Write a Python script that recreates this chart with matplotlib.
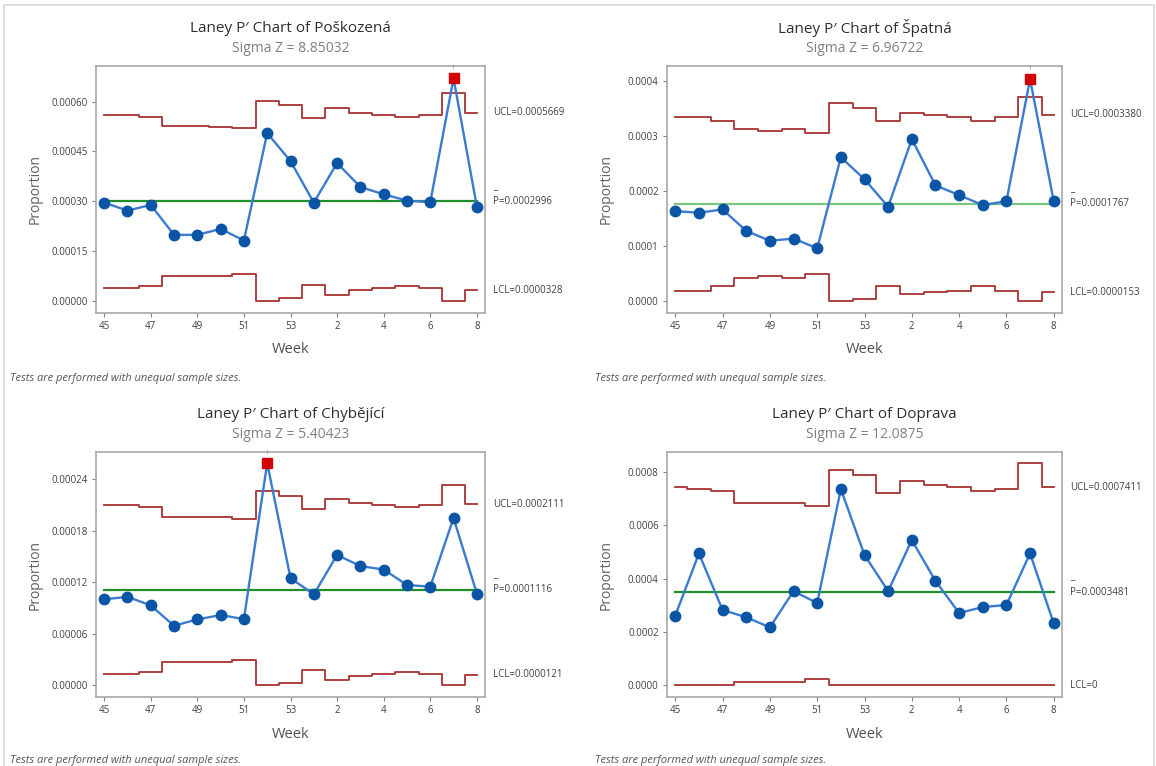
import numpy as np
import matplotlib
matplotlib.use("Agg")
import matplotlib.pyplot as plt
from matplotlib.patches import Rectangle

plt.rcParams["font.family"] = ["Open Sans", "DejaVu Sans"]

# ---- data ----
weeks = [45, 46, 47, 48, 49, 50, 51, 52, 53, 1, 2, 3, 4, 5, 6, 7, 8]
tick_weeks = [45, 47, 49, 51, 53, 2, 4, 6, 8]

names = ["Poškozená", "Špatná", "Chybějící", "Doprava"]
sigma_z = ["8.85032", "6.96722", "5.40423", "12.0875"]
p_bar = [0.0002996, 0.0001767, 0.0001116, 0.0003481]
ucl_last = ["0.0005669", "0.0003380", "0.0002111", "0.0007411"]
lcl_last = ["0.0000328", "0.0000153", "0.0000121", "0"]

prop_poskozena = [0.000296, 0.000272, 0.000289, 0.000199, 0.000199, 0.000217, 0.000182, 0.000505,
                  0.000421, 0.000296, 0.000415, 0.000343, 0.000321, 0.000302, 0.000297, 0.000670, 0.000284]
ucl_poskozena = [0.000560, 0.000560, 0.000555, 0.000525, 0.000525, 0.000524, 0.000519, 0.000603,
                 0.000590, 0.000550, 0.000580, 0.000566, 0.000560, 0.000554, 0.000560, 0.000627, 0.0005669]
lcl_poskozena = [0.0000392, 0.0000392, 0.0000442, 0.0000742, 0.0000742, 0.0000752, 0.0000802, 0.0,
                 0.0000092, 0.0000492, 0.0000192, 0.0000332, 0.0000392, 0.0000452, 0.0000392, 0.0, 0.0000328]

prop_spatna = [0.000163, 0.000160, 0.000166, 0.000127, 0.000109, 0.000113, 0.0000953, 0.000261,
               0.000221, 0.000171, 0.000294, 0.000210, 0.000192, 0.000174, 0.000181, 0.000403, 0.000181]
ucl_spatna = [0.000335, 0.000335, 0.000327, 0.000313, 0.000309, 0.000313, 0.000305, 0.000359,
              0.000350, 0.000327, 0.000342, 0.000338, 0.000335, 0.000327, 0.000335, 0.000371, 0.000338]
lcl_spatna = [0.0000184, 0.0000184, 0.0000264, 0.0000404, 0.0000444, 0.0000404, 0.0000484, 0.0,
              0.0000034, 0.0000264, 0.0000114, 0.0000154, 0.0000184, 0.0000264, 0.0000184, 0.0, 0.0000153]

prop_chybejici = [0.0001002, 0.0001032, 0.0000932, 0.0000694, 0.0000769, 0.0000819, 0.0000772, 0.000259,
                  0.000125, 0.000106, 0.000152, 0.000139, 0.000135, 0.000117, 0.000115, 0.000195, 0.000107]
ucl_chybejici = [0.000210, 0.000210, 0.000208, 0.000196, 0.000196, 0.000196, 0.000194, 0.000226,
                 0.000221, 0.000205, 0.000217, 0.000212, 0.000210, 0.000208, 0.000210, 0.000233, 0.0002111]
lcl_chybejici = [0.0000132, 0.0000132, 0.0000152, 0.0000272, 0.0000272, 0.0000272, 0.0000292, 0.0,
                 0.0000022, 0.0000182, 0.0000062, 0.0000112, 0.0000132, 0.0000152, 0.0000132, 0.0, 0.0000121]

prop_doprava = [0.000261, 0.000494, 0.000282, 0.000255, 0.000217, 0.000353, 0.000308, 0.000735,
                0.000488, 0.000353, 0.000544, 0.000391, 0.000271, 0.000293, 0.000301, 0.000494, 0.000232]
ucl_doprava = [0.000743, 0.000735, 0.000728, 0.000683, 0.000683, 0.000683, 0.000671, 0.000806,
               0.000788, 0.000720, 0.000765, 0.000750, 0.000743, 0.000728, 0.000735, 0.000833, 0.0007411]
lcl_doprava = [0.0, 0.0, 0.0, 0.000013, 0.000013, 0.000013, 0.000025, 0.0,
               0.0, 0.0, 0.0, 0.0, 0.0, 0.0, 0.0, 0.0, 0.0]

yticks = [
    [0.0, 0.00015, 0.0003, 0.00045, 0.0006],
    [0.0, 0.0001, 0.0002, 0.0003, 0.0004],
    [0.0, 0.00006, 0.00012, 0.00018, 0.00024],
    [0.0, 0.0002, 0.0004, 0.0006, 0.0008],
]
ytick_fmt = ["%.5f", "%.4f", "%.5f", "%.4f"]
ylims = [(-0.0000361, 0.000707), (-0.0000224, 0.000427),
         (-0.0000136, 0.000272), (-0.0000438, 0.000874)]

# ---- colours ----
LINE_BLUE = "#3a7bd0"
DOT_BLUE = "#0b55a6"
LIMIT_RED = "#a83232"
FAIL_RED = "#d40000"
CENTER_GREEN = ["#1f8f2a", "#7cc77f", "#1f8f2a", "#1f8f2a"]
FRAME = "#a8a8a8"
TXT = "#404040"
GREY = "#808080"

W, H = 1156, 766
fig = plt.figure(figsize=(W / 100, H / 100), dpi=100)
fig.patches.append(Rectangle((4 / W, -0.01), (W - 6) / W, 1 - 5 / H + 0.01, transform=fig.transFigure,
                             fill=False, edgecolor="#d8d8d8", linewidth=1.2))

# axes boxes in pixels: left, top, right, bottom
boxes = [(96, 66, 485, 313), (667, 66, 1062, 313), (96, 452, 485, 697), (667, 452, 1062, 697)]
foot_x = [10, 595, 10, 595]
foot_y = [379, 379, 760, 760]

series = [(prop_poskozena, ucl_poskozena, lcl_poskozena),
          (prop_spatna, ucl_spatna, lcl_spatna),
          (prop_chybejici, ucl_chybejici, lcl_chybejici),
          (prop_doprava, ucl_doprava, lcl_doprava)]

x = np.arange(len(weeks))
tick_pos = [weeks.index(w) if w >= 45 else 9 + weeks[9:].index(w) for w in tick_weeks]

for i, (prop, ucl, lcl) in enumerate(series):
    l, t, r, b = boxes[i]
    ax = fig.add_axes([l / W, 1 - b / H, (r - l) / W, (b - t) / H])
    prop = np.array(prop)
    ucl = np.array(ucl)
    lcl = np.array(lcl)

    ax.step(x, ucl, where="mid", color=LIMIT_RED, lw=1.3, zorder=2)
    ax.step(x, lcl, where="mid", color=LIMIT_RED, lw=1.3, zorder=2)
    ax.plot([x[0], x[-1]], [p_bar[i]] * 2, color=CENTER_GREEN[i], lw=1.6, zorder=2)
    ax.plot(x, prop, color=LINE_BLUE, lw=1.7, zorder=3)
    ok = prop <= ucl
    ax.plot(x[ok], prop[ok], "o", color=DOT_BLUE, ms=7.5, mec=DOT_BLUE, zorder=4)
    fail = ~ok
    ax.plot(x[fail], prop[fail], "s", color=FAIL_RED, ms=6.5, mec=FAIL_RED, zorder=5)
    for xf, yf in zip(x[fail], prop[fail]):
        ax.annotate("1", (xf, yf), xytext=(0, 6), textcoords="offset points", ha="center",
                    va="bottom", fontsize=4, color=GREY, annotation_clip=False)

    ax.set_xlim(-0.35, len(weeks) - 1 + 0.35)
    ax.set_ylim(*ylims[i])
    ax.set_xticks(tick_pos)
    ax.set_xticklabels([str(w) for w in tick_weeks])
    ax.set_yticks(yticks[i])
    ax.set_yticklabels([ytick_fmt[i] % v for v in yticks[i]])
    ax.tick_params(labelsize=7, colors=TXT, length=3, width=0.8, color=GREY, pad=3)
    for s in ax.spines.values():
        s.set_color(FRAME)
        s.set_linewidth(1.2)

    # limit labels on the right
    lab_x = 1 + 8 / (r - l)
    trans = ax.get_yaxis_transform()
    ax.text(lab_x, ucl[-1], "UCL=" + ucl_last[i], transform=trans, fontsize=7,
            color=TXT, va="center", ha="left", clip_on=False)
    ax.text(lab_x, p_bar[i], "P=%.7f" % p_bar[i], transform=trans, fontsize=7,
            color=TXT, va="center", ha="left", clip_on=False)
    ax.annotate("_", (lab_x, p_bar[i]), xycoords=trans, xytext=(0, 11), textcoords="offset points",
                fontsize=7, color=TXT, ha="left", va="center", annotation_clip=False)
    ax.text(lab_x, lcl[-1], "LCL=" + lcl_last[i], transform=trans, fontsize=7,
            color=TXT, va="center", ha="left", clip_on=False)

    cx = (l + r) / 2 / W
    fig.text(cx, 1 - (t - 38) / H, "Laney P\u2032 Chart of " + names[i], ha="center", va="center",
             fontsize=11, color="#2e2e2e")
    fig.text(cx, 1 - (t - 18) / H, "Sigma Z = " + sigma_z[i], ha="center", va="center",
             fontsize=10, color=GREY)
    fig.text(cx, 1 - (b + 37) / H, "Week", ha="center", va="center", fontsize=10.5, color="#505050")
    fig.text((l - 61) / W, 1 - (t + b) / 2 / H, "Proportion", ha="center", va="center",
             rotation=90, fontsize=10, color="#606060")
    fig.text(foot_x[i] / W, 1 - foot_y[i] / H, "Tests are performed with unequal sample sizes.",
             ha="left", va="center", fontsize=8, style="italic", color="#555555")

fig.savefig("out.png", dpi=100)
